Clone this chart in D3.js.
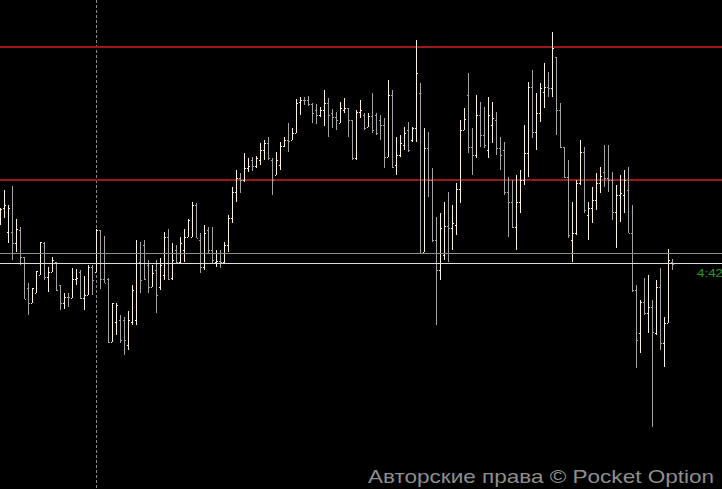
<!DOCTYPE html>
<html><head><meta charset="utf-8">
<script src="https://cdn.jsdelivr.net/npm/d3@7"></script>
<style>html,body{margin:0;padding:0;background:#000;overflow:hidden}</style>
</head><body><svg id="c" width="722" height="489"></svg>
<script>
const high = [292,310,295,314,281,273,243,217,212,229,258,258,233,243,238,215,207,207,232,231,230,224,235,235,271,270,264,222,197,197,185,183,189,215,260,258,260,240,235,240,242,268,271,257,255,263,271,281,298,297,267,275,273,273,250,250,258,285,313,330,327,347,342,343,344,357,360,363,342,348,358,363,377,372,401,403,403,404,397,396,393,410,402,391,388,398,402,392,380,390,400,387,387,407,387,385,382,420,410,363,365,373,378,373,460,417,372,368,332,283,287,298,308,295,317,380,392,427,372,405,398,393,403,398,388,363,358,323,320,325,330,375,418,430,407,417,437,428,468,443,397,353,340,298,320,360,353,298,313,327,333,355,355,328,315,325,330,333,295,215,200,222,225,200,220,232,183,251,241];
const low = [275,282,257,240,248,235,201,185,197,207,225,220,208,228,209,190,191,193,202,215,201,190,205,205,228,211,217,157,158,165,157,145,150,175,175,207,220,207,213,187,210,220,220,220,237,237,238,263,263,262,227,230,247,237,233,232,237,248,277,298,307,318,328,329,332,335,340,340,305,325,330,353,348,360,367,385,395,394,377,376,383,374,363,372,370,377,387,363,340,340,382,370,373,367,365,360,332,343,332,325,343,350,348,358,358,247,248,303,258,175,220,240,238,250,265,297,370,347,325,342,353,352,342,357,345,330,305,263,272,250,287,315,323,362,350,378,392,403,403,365,352,322,262,238,265,315,287,260,277,290,307,313,308,280,252,278,287,267,208,132,147,185,167,73,165,150,133,177,230];
const open = [280,292,268,268,257,270,243,212,197,207,225,257,223,228,238,215,197,203,202,221,228,202,205,233,228,270,221,221,158,178,180,180,155,178,180,238,255,235,213,230,213,225,263,222,250,238,250,263,263,295,260,233,270,250,238,239,238,255,282,308,322,320,332,340,334,340,350,357,340,325,335,354,360,360,367,398,400,400,396,390,385,390,397,387,383,377,390,392,380,342,388,385,373,384,385,380,375,343,405,335,345,355,370,360,372,407,248,352,320,260,230,245,274,272,275,311,370,405,353,345,385,365,350,375,380,352,350,308,298,273,298,320,347,413,368,387,408,413,412,443,390,353,323,260,267,317,348,285,292,300,317,328,322,320,288,305,305,310,267,210,167,198,187,193,167,213,157,177,238];
const close = [291,295,292,257,271,243,201,197,212,229,258,223,228,240,210,197,203,203,221,222,202,205,233,220,270,221,217,158,197,195,160,160,180,210,237,220,221,213,227,205,235,263,221,240,238,257,263,280,295,262,233,267,250,240,239,238,255,282,308,322,320,332,334,334,342,350,357,342,320,340,354,360,359,367,397,400,400,396,387,385,390,397,385,383,380,392,392,380,342,388,390,372,384,370,367,375,343,405,333,345,357,367,350,372,427,247,352,320,260,230,272,274,272,277,311,370,381,353,345,385,365,355,385,382,352,345,308,298,273,298,320,347,413,368,387,412,413,412,452,390,353,323,265,267,317,348,290,292,300,317,324,322,320,288,305,307,320,267,210,160,198,187,193,168,213,157,177,240,236];
const redLevels = [453, 320];
const greyLevel = [246.5];
const whiteLevel = [236.5];
const markerIndex = [24];
const timerLabel = "4:42";
const copyright = "Авторские права © Pocket Option";

const W = 722, H = 489;
const svg = d3.select("#c");
svg.append("rect").attr("width", W).attr("height", H).attr("fill", "#000");

const idx = d3.range(high.length);
const x = d3.scaleLinear().domain([0, high.length - 1]).range([0, 672]);
const y = d3.scaleLinear().domain([0, 500]).range([500, 0]);

// vertical dashed marker
svg.selectAll("line.marker").data(markerIndex).enter().append("line")
  .attr("x1", d => Math.round(x(d)) + 0.5).attr("x2", d => Math.round(x(d)) + 0.5)
  .attr("y1", 0).attr("y2", H)
  .attr("stroke", "#8a8a8a").attr("stroke-width", 1).attr("stroke-dasharray", "3,2");

// red levels
svg.selectAll("line.red").data(redLevels).enter().append("line")
  .attr("x1", 0).attr("x2", W).attr("y1", d => y(d)).attr("y2", d => y(d))
  .attr("stroke", "#8e1515").attr("stroke-width", 2);
svg.selectAll("line.redc").data(redLevels).enter().append("line")
  .attr("x1", 0).attr("x2", W).attr("y1", d => y(d)).attr("y2", d => y(d))
  .attr("stroke", "#b52222").attr("stroke-width", 0.8);

// bars
const g = svg.append("g");
const col = i => close[i] > open[i] ? "#f6f0dc" : "#a5a5a5";
idx.forEach(i => {
  const px = Math.round(x(i));
  const yh = Math.round(y(high[i])), yl = Math.round(y(low[i]));
  g.append("rect").attr("x", px).attr("y", yh).attr("width", 1).attr("height", Math.max(1, yl - yh)).attr("fill", col(i));
  g.append("rect").attr("x", px - 1).attr("y", Math.round(y(open[i]))).attr("width", 1).attr("height", 1).attr("fill", col(i));
  g.append("rect").attr("x", px + 1).attr("y", Math.round(y(close[i]))).attr("width", 1).attr("height", 1).attr("fill", col(i));
});

// current price lines
svg.selectAll("line.grey").data(greyLevel).enter().append("line")
  .attr("x1", 0).attr("x2", W).attr("y1", d => y(d)).attr("y2", d => y(d))
  .attr("stroke", "#8c8c8c").attr("stroke-width", 1);
svg.selectAll("line.white").data(whiteLevel).enter().append("line")
  .attr("x1", 0).attr("x2", W).attr("y1", d => y(d)).attr("y2", d => y(d))
  .attr("stroke", "#dcdcdc").attr("stroke-width", 1);

svg.append("text").attr("x", 697).attr("y", 277)
  .attr("font-family", "Liberation Sans, Arial, sans-serif").attr("font-size", 11.5)
  .attr("textLength", 26).attr("lengthAdjust", "spacingAndGlyphs")
  .attr("fill", "#2a9a2a").text(timerLabel);

svg.append("text").attr("x", 368).attr("y", 483)
  .attr("font-family", "Liberation Sans, Arial, sans-serif").attr("font-size", 18.5)
  .attr("textLength", 346).attr("lengthAdjust", "spacingAndGlyphs")
  .attr("fill", "#8e8e8e").text(copyright);
</script></body></html>
